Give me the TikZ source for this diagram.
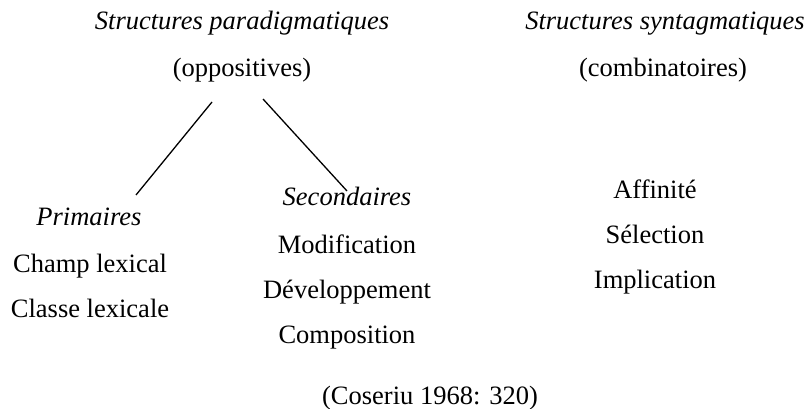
\documentclass[tikz,border=0pt]{standalone}
\usepackage{fontspec}
\setmainfont{Liberation Serif}
\begin{document}
\begin{tikzpicture}[x=1pt,y=-1pt,
  txt/.style={anchor=base,inner sep=0pt,font=\fontsize{26.5}{30}\selectfont},
  itxt/.style={txt,font=\fontsize{26.5}{30}\selectfont\itshape},
  branch/.style={line width=1.3pt}]
\useasboundingbox (0,0) rectangle (806,409);
\node[itxt] (sp) at (242,30) {Structures paradigmatiques};
\node[txt] (op) at (242,77) {(oppositives)};
\node[itxt] (ss) at (665,30) {Structures syntagmatiques};
\node[txt] (co) at (663,77) {(combinatoires)};
\node[itxt] (pr) at (89,225) {Primaires};
\node[txt] (cl) at (90,272) {Champ lexical};
\node[txt] (cx) at (90,317) {Classe lexicale};
\node[itxt] (se) at (347,205) {Secondaires};
\node[txt] (mo) at (347,253) {Modification};
\node[txt] (de) at (347,298) {Développement};
\node[txt] (cp) at (347,343) {Composition};
\node[txt] (af) at (655,198) {Affinité};
\node[txt] (sl) at (655,243) {Sélection};
\node[txt] (im) at (655,288) {Implication};
\node[txt] (ref) at (430,404) {(Coseriu 1968: 320)};
\coordinate (a1) at (212,102);
\coordinate (a2) at (136,195);
\coordinate (b1) at (263,99);
\coordinate (b2) at (347,191);
\draw[branch] (a1) -- (a2);
\draw[branch] (b1) -- (b2);
\end{tikzpicture}
\end{document}
